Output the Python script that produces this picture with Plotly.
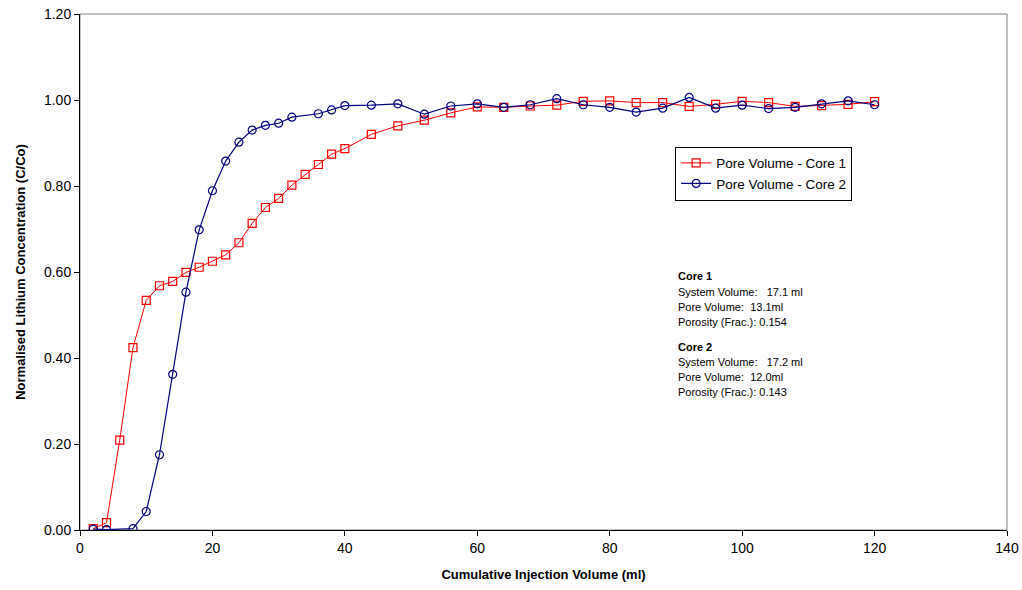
import plotly.graph_objects as go

# Core 1 (Pore Volume - Core 1)
x_core1 = [2, 4, 6, 8, 10, 12, 14, 16, 18, 20, 22, 24, 26, 28, 30, 32, 34, 36, 38, 40,
           44, 48, 52, 56, 60, 64, 68, 72, 76, 80, 84, 88, 92, 96, 100, 104, 108, 112, 116, 120]
y_core1 = [0.003, 0.017, 0.209, 0.424, 0.534, 0.568, 0.578, 0.599, 0.611, 0.625, 0.640, 0.668,
           0.713, 0.750, 0.771, 0.802, 0.827, 0.850, 0.874, 0.887,
           0.920, 0.940, 0.953, 0.970, 0.984, 0.983, 0.986, 0.988, 0.997, 0.998,
           0.994, 0.994, 0.985, 0.990, 0.997, 0.994, 0.985, 0.987, 0.990, 0.996]

# Core 2 (Pore Volume - Core 2)
x_core2 = [2, 4, 8, 10, 12, 14, 16, 18, 20, 22, 24, 26, 28, 30, 32, 36, 38, 40,
           44, 48, 52, 56, 60, 64, 68, 72, 76, 80, 84, 88, 92, 96, 100, 104, 108, 112, 116, 120]
y_core2 = [0.002, 0.001, 0.003, 0.043, 0.175, 0.362, 0.553, 0.698, 0.789, 0.858, 0.902, 0.930,
           0.941, 0.946, 0.960, 0.968, 0.977, 0.987,
           0.988, 0.991, 0.967, 0.986, 0.991, 0.983, 0.989, 1.003, 0.989, 0.983,
           0.972, 0.981, 1.006, 0.981, 0.988, 0.980, 0.983, 0.991, 0.998, 0.989]

series_names = ["Pore Volume - Core 1", "Pore Volume - Core 2"]

x_ticks = [0, 20, 40, 60, 80, 100, 120, 140]
y_ticks = [0.0, 0.2, 0.4, 0.6, 0.8, 1.0, 1.2]

info_lines = [
    "<b>Core 1</b>",
    "System Volume:\u00a0\u00a0\u00a017.1 ml",
    "Pore Volume:\u00a0\u00a013.1ml",
    "Porosity (Frac.): 0.154",
    "<b>Core 2</b>",
    "System Volume:\u00a0\u00a0\u00a017.2 ml",
    "Pore Volume:\u00a0\u00a012.0ml",
    "Porosity (Frac.): 0.143",
]
info_y = [0.591, 0.553, 0.518, 0.483, 0.425, 0.390, 0.355, 0.320]

FONT = "Arial, 'Liberation Sans', sans-serif"

fig = go.Figure()
fig.add_trace(go.Scatter(
    x=x_core1, y=y_core1, mode="lines+markers", name=series_names[0],
    line=dict(color="#FF0000", width=1),
    marker=dict(symbol="square-open", size=8, color="#FF0000", line=dict(width=1.2)),
))
fig.add_trace(go.Scatter(
    x=x_core2, y=y_core2, mode="lines+markers", name=series_names[1],
    line=dict(color="#000080", width=1.2),
    marker=dict(symbol="circle-open", size=8, color="#000080", line=dict(width=1.2)),
))

for txt, yy in zip(info_lines, info_y):
    fig.add_annotation(x=90.0, y=yy, xref="x", yref="y", text=txt, showarrow=False,
                       xanchor="left", yanchor="middle",
                       font=dict(family=FONT, size=11, color="black"))

fig.add_shape(type="rect", xref="paper", yref="paper", x0=0, y0=0, x1=1, y1=1,
              line=dict(color="#808080", width=1), layer="below")

fig.update_layout(
    width=1022, height=590, autosize=False,
    margin=dict(l=80, r=15, t=14, b=60),
    paper_bgcolor="white", plot_bgcolor="white",
    font=dict(family=FONT, size=14, color="black"),
    showlegend=True,
    legend=dict(x=0.642, y=0.743, xanchor="left", yanchor="top",
                bordercolor="black", borderwidth=1, bgcolor="white",
                font=dict(family=FONT, size=13.5, color="black"),
                itemwidth=30, tracegroupgap=0),
    xaxis=dict(range=[0, 140], tickvals=x_ticks, ticktext=[str(v) for v in x_ticks],
               ticks="outside", ticklen=5, tickcolor="black", automargin=False,
               showline=True, linecolor="black", linewidth=1,
               showgrid=False, zeroline=False,
               tickfont=dict(family=FONT, size=14),
               title=dict(text="<b>Cumulative Injection Volume (ml)</b>",
                          font=dict(family=FONT, size=13))),
    yaxis=dict(range=[0, 1.2], tickvals=y_ticks, ticktext=[f"{v:.2f}" for v in y_ticks],
               ticks="outside", ticklen=5, tickcolor="black", automargin=False,
               showline=True, linecolor="black", linewidth=1,
               showgrid=False, zeroline=False,
               tickfont=dict(family=FONT, size=14),
               title=dict(text="<b>Normalised Lithium Concentration (C/Co)</b>",
                          font=dict(family=FONT, size=13))),
)

fig.write_html("out.html", config={"displayModeBar": False},
               post_script="document.body.style.margin='0';document.body.style.overflow='hidden';")
